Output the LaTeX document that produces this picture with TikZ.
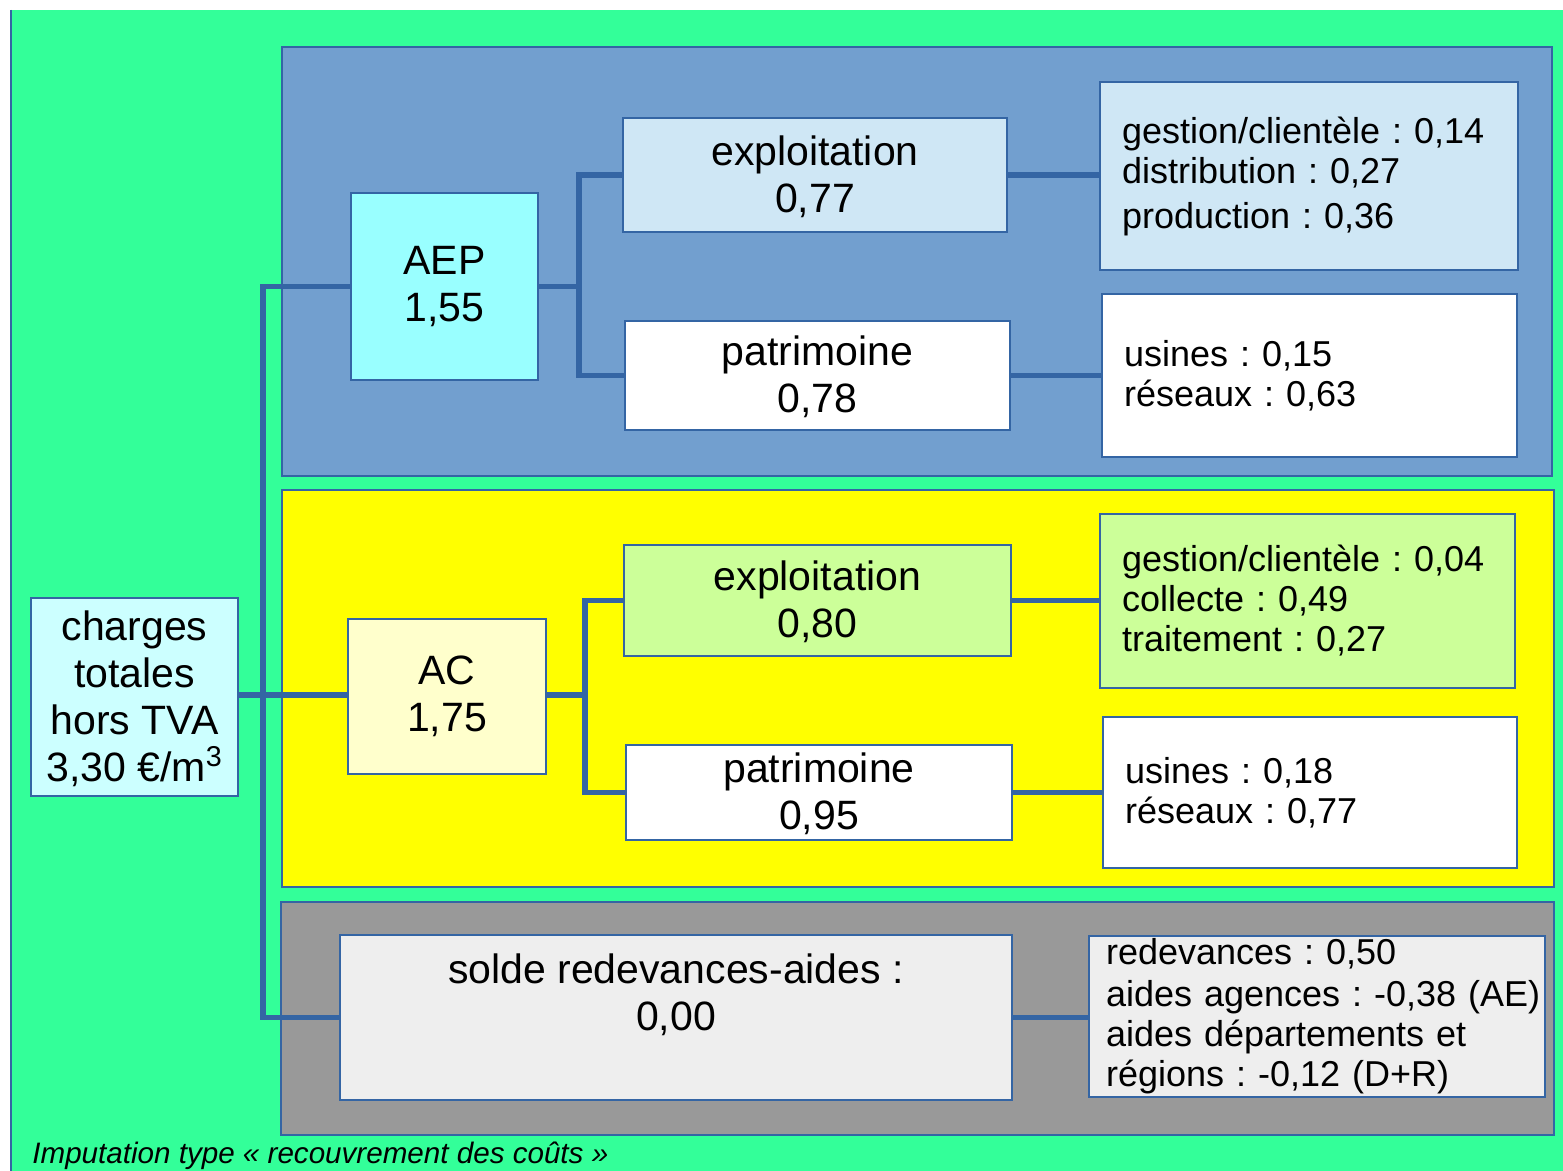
\documentclass[tikz,border=0pt]{standalone}
\usepackage{fontspec}
\setmainfont{Liberation Sans}
\frenchspacing
\definecolor{bggreen}{HTML}{33FF99}
\definecolor{linecol}{HTML}{3465A4}
\definecolor{panelblue}{HTML}{729FCF}
\definecolor{panelyellow}{HTML}{FFFF00}
\definecolor{panelgray}{HTML}{999999}
\definecolor{chargesfill}{HTML}{CCFFFF}
\definecolor{aepfill}{HTML}{99FFFF}
\definecolor{aepexpfill}{HTML}{CFE7F5}
\definecolor{acfill}{HTML}{FFFFCC}
\definecolor{acexpfill}{HTML}{CCFF99}
\definecolor{soldefill}{HTML}{EEEEEE}
\newcommand\boxat[7]{\node[#6, anchor=north west, minimum width={0.5pt*(#4-#2)}, minimum height={0.5pt*(#5-#3)}] (#1) at (#2,#3) {#7};}
\tikzset{
  frame/.style={draw=linecol, line width=0.75pt, inner sep=0pt, outer sep=0pt},
  panel/.style={frame},
  mainbox/.style={frame, align=center, font=\fontsize{20.5}{23.5}\selectfont},
  detailbox/.style={frame, align=left, inner xsep=11pt, font=\fontsize{18}{20}\selectfont},
  conn/.style={draw=linecol, line width=2.75pt},
}
\begin{document}
\begin{tikzpicture}[x=0.5pt,y=-0.5pt]
\useasboundingbox (0,0) rectangle (1563,1171);
\fill[white] (0,0) rectangle (1563,1171);
\fill[bggreen] (11,10) rectangle (1563,1171);
\draw[linecol, line width=0.75pt] (11,10) -- (11,1171);

% panels
\boxat{pblue}{282}{47}{1552}{476}{panel, fill=panelblue}{}
\boxat{pyellow}{282}{490}{1554}{887}{panel, fill=panelyellow}{}
\boxat{pgray}{281}{902}{1554}{1135}{panel, fill=panelgray}{}

% boxes
\boxat{charges}{31}{598}{238}{796}{mainbox, fill=chargesfill}{\strut charges\\totales\\hors TVA\\3,30 €/m\textsuperscript{3}}
\boxat{aep}{351}{193}{538}{380}{mainbox, fill=aepfill}{AEP\\1,55}
\boxat{aepexp}{623}{118}{1007}{232}{mainbox, fill=aepexpfill}{\strut exploitation\\0,77}
\boxat{aeppat}{625}{321}{1010}{430}{mainbox, fill=white}{\strut patrimoine\\0,78}
\boxat{aepd1}{1100}{82}{1518}{270}{detailbox, fill=aepexpfill, text width=187pt}{gestion/clientèle : 0,14\\distribution : 0,27\\[2.5pt]production : 0,36}
\boxat{aepd2}{1102}{294}{1517}{457}{detailbox, fill=white, text width=185.5pt}{usines : 0,15\\réseaux : 0,63}

\boxat{ac}{348}{619}{546}{774}{mainbox, fill=acfill}{AC\\1,75}
\boxat{acexp}{624}{545}{1011}{656}{mainbox, fill=acexpfill}{\strut exploitation\\0,80}
\boxat{acpat}{626}{745}{1012}{840}{mainbox, fill=white}{\strut patrimoine\\0,95}
\boxat{acd1}{1100}{514}{1515}{688}{detailbox, fill=acexpfill, text width=185.5pt}{gestion/clientèle : 0,04\\collecte : 0,49\\traitement : 0,27}
\boxat{acd2}{1103}{717}{1517}{868}{detailbox, fill=white, text width=185pt}{usines : 0,18\\réseaux : 0,77}

\boxat{solde}{340}{935}{1012}{1100}{mainbox, fill=soldefill}{solde redevances-aides :\\0,00\\[-5pt]\strut}
\boxat{solded}{1089}{936}{1545}{1097}{detailbox, fill=soldefill, inner xsep=8.5pt, text width=211pt}{redevances : 0,50\\[1pt]\mbox{aides agences : -0,38 (AE)}\\aides départements et\\régions : -0,12 (D+R)}

% connectors
\coordinate (tk) at (263,0);
\coordinate (ja) at (579,0);
\coordinate (jc) at (585,0);
\draw[conn] (aep.west) -- (aep.west -| tk) -- (solde.west -| tk) -- (solde.west);
\draw[conn] (charges.east |- 0,695) -- (ac.west |- 0,695);
\draw[conn] (aep.east) -- (aep.east -| ja);
\draw[conn] (aepexp.west) -- (aepexp.west -| ja) -- (aeppat.west -| ja) -- (aeppat.west);
\draw[conn] (aepexp.east) -- (aepexp.east -| aepd1.west);
\draw[conn] (aeppat.east) -- (aeppat.east -| aepd2.west);
\draw[conn] (ac.east |- 0,695) -- (jc |- 0,695);
\draw[conn] (acexp.west) -- (acexp.west -| jc) -- (acpat.west -| jc) -- (acpat.west);
\draw[conn] (acexp.east) -- (acexp.east -| acd1.west);
\draw[conn] (acpat.east) -- (acpat.east -| acd2.west);
\draw[conn] (solde.east) -- (solde.east -| solded.west);

\node[anchor=base west, inner sep=0pt, font=\itshape\fontsize{14.8}{17}\selectfont] (caption) at (32,1163) {Imputation type « recouvrement des coûts »};
\end{tikzpicture}
\end{document}
